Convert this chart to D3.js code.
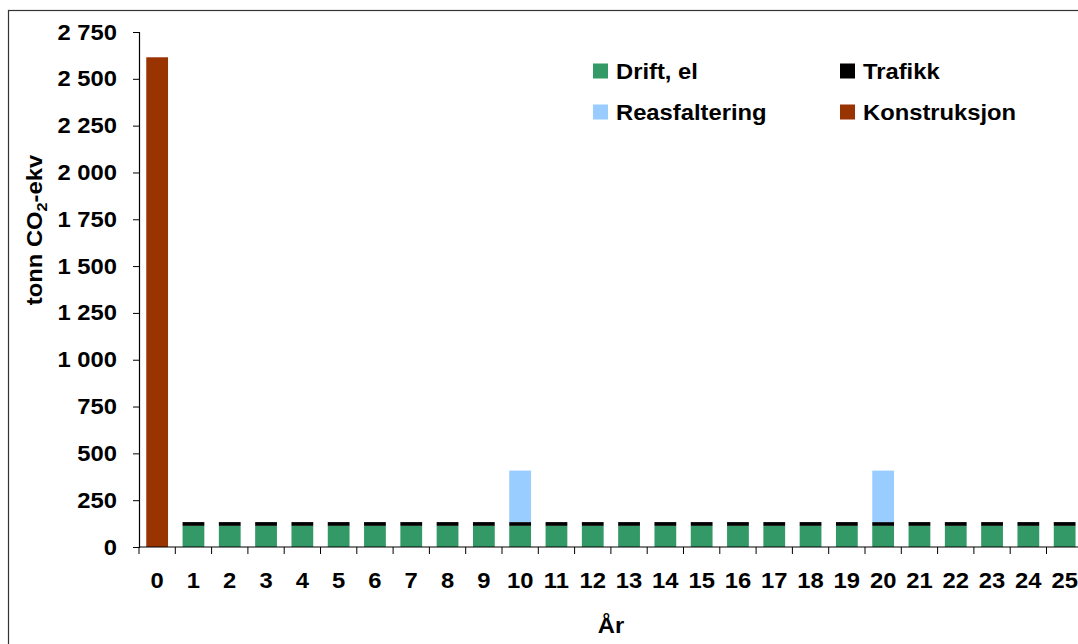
<!DOCTYPE html>
<html>
<head>
<meta charset="utf-8">
<script src="https://cdn.jsdelivr.net/npm/d3@7"></script>
<style>
  html, body { margin: 0; padding: 0; background: #fff; }
  svg { display: block; }
  text { font-family: "Liberation Sans", Arial, sans-serif; font-weight: bold; fill: #000; }
</style>
</head>
<body>
<svg id="chart" width="1078" height="644"></svg>
<script>
// Years after opening (0 = construction year)
const years = d3.range(0, 26);

// Emissions per year, tonn CO2-ekv
const konstruksjon = [2615, 0, 0, 0, 0, 0, 0, 0, 0, 0, 0, 0, 0, 0, 0, 0, 0, 0, 0, 0, 0, 0, 0, 0, 0, 0];
const driftEl      = [0, 113, 113, 113, 113, 113, 113, 113, 113, 113, 113, 113, 113, 113, 113, 113, 113, 113, 113, 113, 113, 113, 113, 113, 113, 113];
const trafikk      = [0, 20, 20, 20, 20, 20, 20, 20, 20, 20, 20, 20, 20, 20, 20, 20, 20, 20, 20, 20, 20, 20, 20, 20, 20, 20];
const reasfaltering = [0, 0, 0, 0, 0, 0, 0, 0, 0, 0, 275, 0, 0, 0, 0, 0, 0, 0, 0, 0, 275, 0, 0, 0, 0, 0];

const yTicks = [0, 250, 500, 750, 1000, 1250, 1500, 1750, 2000, 2250, 2500, 2750];

// Stack order from the bottom up
const seriesKeys = ["Drift, el", "Trafikk", "Reasfaltering", "Konstruksjon"];
const seriesColors = {
  "Drift, el": "#339966",
  "Trafikk": "#000000",
  "Reasfaltering": "#99CCFF",
  "Konstruksjon": "#993300"
};
const seriesValues = {
  "Drift, el": driftEl,
  "Trafikk": trafikk,
  "Reasfaltering": reasfaltering,
  "Konstruksjon": konstruksjon
};

const rows = years.map((yr, i) => {
  const r = { year: yr };
  seriesKeys.forEach(k => { r[k] = seriesValues[k][i]; });
  return r;
});

const svg = d3.select("#chart");
const fontSize = 22;
const stretch = 1.08; // text is set a little wider than the regular face

// Widen a text element horizontally while keeping its anchor
function widen(sel) {
  sel.each(function () {
    const len = this.getComputedTextLength();
    if (len > 0) {
      d3.select(this)
        .attr("textLength", len * stretch)
        .attr("lengthAdjust", "spacingAndGlyphs");
    }
  });
}

// Outer chart frame
svg.append("rect")
  .attr("x", 8.5).attr("y", 10.5)
  .attr("width", 1200).attr("height", 800)
  .attr("fill", "none").attr("stroke", "#333").attr("stroke-width", 1.2);

const plot = { left: 139, right: 1082.8, top: 32, bottom: 547 };

const x = d3.scaleBand()
  .domain(years)
  .range([plot.left, plot.right])
  .paddingInner(0.4)
  .paddingOuter(0.2);

const y = d3.scaleLinear()
  .domain([0, 2750])
  .range([plot.bottom, plot.top]);

const stacked = d3.stack().keys(seriesKeys)(rows);

// Bars
svg.append("g").selectAll("g")
  .data(stacked)
  .join("g")
  .attr("fill", d => seriesColors[d.key])
  .selectAll("rect")
  .data(d => d.filter(p => p[1] - p[0] > 0))
  .join("rect")
  .attr("x", d => x(d.data.year))
  .attr("width", x.bandwidth())
  .attr("y", d => y(d[1]))
  .attr("height", d => y(d[0]) - y(d[1]));

// Y axis
const fmt = v => d3.format(",")(v).replace(/,/g, "\u00a0");
const yAxis = svg.append("g")
  .attr("transform", `translate(${plot.left},0)`)
  .call(d3.axisLeft(y).tickValues(yTicks).tickFormat(fmt).tickSize(6).tickPadding(16));
yAxis.select(".domain").attr("stroke", "#000").attr("stroke-width", 1.2);
yAxis.selectAll(".tick line").attr("stroke", "#000");
yAxis.selectAll(".tick text")
  .style("font-size", fontSize + "px")
  .style("font-family", "'Liberation Sans', Arial, sans-serif")
  .style("font-weight", "bold")
  .attr("fill", "#000")
  .call(widen);

// X axis: ticks sit between categories
const xAxisG = svg.append("g").attr("transform", `translate(0,${plot.bottom})`);
xAxisG.append("line")
  .attr("x1", plot.left).attr("x2", plot.right)
  .attr("stroke", "#000").attr("stroke-width", 1.2);
xAxisG.selectAll("line.tk")
  .data(years)
  .join("line")
  .attr("class", "tk")
  .attr("x1", d => x(d) - x.step() * x.paddingOuter())
  .attr("x2", d => x(d) - x.step() * x.paddingOuter())
  .attr("y1", 0).attr("y2", 7)
  .attr("stroke", "#000");
xAxisG.selectAll("text")
  .data(years)
  .join("text")
  .attr("x", d => x(d) + x.bandwidth() / 2)
  .attr("y", 41)
  .attr("text-anchor", "middle")
  .style("font-size", fontSize + "px")
  .text(d => d)
  .call(widen);

// Axis titles
svg.append("text")
  .attr("x", 611).attr("y", 633)
  .attr("text-anchor", "middle")
  .style("font-size", fontSize + "px")
  .text("År")
  .call(widen);

const yTitle = svg.append("text")
  .attr("transform", "translate(42,230) rotate(-90)")
  .attr("text-anchor", "middle")
  .style("font-size", fontSize + "px");
yTitle.append("tspan").text("tonn CO");
yTitle.append("tspan").attr("dy", 5).style("font-size", "15px").text("2");
yTitle.append("tspan").attr("dy", -5).text("-ekv");
widen(yTitle);

// Legend
const legendItems = [
  { key: "Drift, el", x: 593, y: 71 },
  { key: "Trafikk", x: 840, y: 71 },
  { key: "Reasfaltering", x: 593, y: 112 },
  { key: "Konstruksjon", x: 840, y: 112 }
];
const lg = svg.append("g").selectAll("g")
  .data(legendItems)
  .join("g")
  .attr("transform", d => `translate(${d.x},${d.y})`);
lg.append("rect")
  .attr("x", 0).attr("y", -7.5)
  .attr("width", 15).attr("height", 15)
  .attr("fill", d => seriesColors[d.key]);
lg.append("text")
  .attr("x", 23).attr("y", 8)
  .style("font-size", fontSize + "px")
  .text(d => d.key)
  .call(widen);
</script>
</body>
</html>
